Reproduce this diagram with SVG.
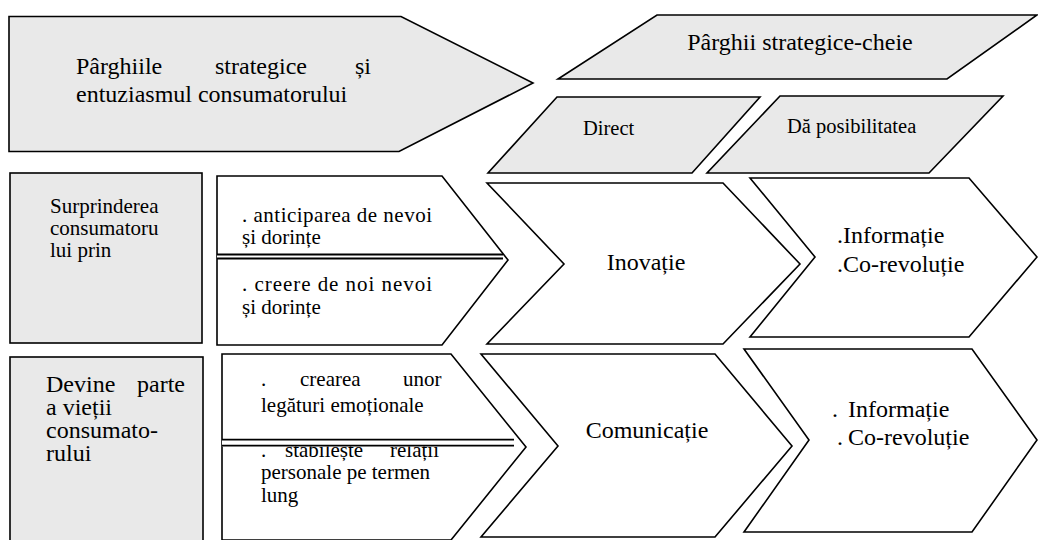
<svg xmlns="http://www.w3.org/2000/svg" width="1038" height="540" viewBox="0 0 1038 540">
  <style>
    .bg { fill: #ffffff; }
    .shade { fill: #e9e9e9; stroke: #000; stroke-width: 1.6; stroke-linejoin: miter; }
    .plain { fill: #ffffff; stroke: #000; stroke-width: 1.6; stroke-linejoin: miter; }
    .rule { stroke: #000; stroke-width: 1.8; }
    text { font-family: "Liberation Serif", "Times New Roman", serif; fill: #000; }
    .lg { font-size: 24px; }
    .md { font-size: 21px; }
    .sm { font-size: 20.5px; }
  </style>

  <rect class="bg" x="0" y="0" width="1038" height="540"/>

  <!-- header: strategic levers and consumer enthusiasm -->
  <g id="header-arrow">
    <polygon class="shade" points="9,16.5 401,16.5 533,83 399,151.5 9,151.5"/>
    <text class="lg" y="74"><tspan x="76">Pârghiile</tspan><tspan x="215">strategice</tspan><tspan x="355">și</tspan></text>
    <text class="lg" x="76" y="101.5">entuziasmul consumatorului</text>
  </g>

  <g id="key-levers">
    <polygon class="shade" points="657,15 1037,15 947,79 558,79"/>
    <text class="lg" x="800" y="50" text-anchor="middle">Pârghii strategice-cheie</text>
  </g>

  <g id="direct">
    <polygon class="shade" points="557,97 760,97 692,173 488,173"/>
    <text class="sm" x="583" y="135">Direct</text>
  </g>

  <g id="enables">
    <polygon class="shade" points="780,96 1003,96 929,173 707,173"/>
    <text class="sm" x="787" y="133">Dă posibilitatea</text>
  </g>

  <!-- row 1 -->
  <g id="surprise">
    <rect class="shade" x="10" y="173" width="192" height="170"/>
    <text class="md" x="50" y="213">Surprinderea</text>
    <text class="md" x="50" y="235">consumatoru</text>
    <text class="md" x="50" y="257">lui prin</text>
  </g>

  <g id="surprise-means">
    <polygon class="plain" points="217,176 442,176 508,260 442,345 217,345"/>
    <text class="md" x="242" y="222" textLength="190" lengthAdjust="spacing">. anticiparea de nevoi</text>
    <text class="md" x="242" y="244">și dorințe</text>
    <text class="md" x="242" y="291" textLength="190" lengthAdjust="spacing">. creere de noi nevoi</text>
    <text class="md" x="242" y="314">și dorințe</text>
  </g>

  <g id="innovation">
    <polygon class="plain" points="487,183 723,183 800,264 723,344 487,344 564,264"/>
    <text class="lg" x="646" y="270" text-anchor="middle">Inovație</text>
  </g>

  <g id="info-1">
    <polygon class="plain" points="750,178 969,178 1037,257 969,337 750,337 815,257"/>
    <text class="lg" x="837" y="243">.Informație</text>
    <text class="lg" x="837" y="272">.Co-revoluție</text>
  </g>

  <!-- row 2 -->
  <g id="become-part">
    <rect class="shade" x="10" y="357" width="193" height="190"/>
    <text class="lg" y="392"><tspan x="46">Devine</tspan><tspan x="137">parte</tspan></text>
    <text class="lg" x="46" y="415">a vieții</text>
    <text class="lg" x="46" y="438">consumato-</text>
    <text class="lg" x="46" y="461">rului</text>
  </g>

  <g id="become-means">
    <polygon class="plain" points="222,354 451,354 526,447 451,540 222,540"/>
    <text class="md" y="386"><tspan x="261">.</tspan><tspan x="300">crearea</tspan><tspan x="403">unor</tspan></text>
    <text class="md" x="261" y="412">legături emoționale</text>
    <text class="md" y="457"><tspan x="261">.</tspan><tspan x="285">stabilește</tspan><tspan x="390">relații</tspan></text>
    <text class="md" x="261" y="479">personale pe termen</text>
    <text class="md" x="261" y="502">lung</text>
  </g>

  <g id="communication">
    <polygon class="plain" points="481,354 715,354 792,446 715,537 481,537 558,446"/>
    <text class="lg" x="647" y="438" text-anchor="middle">Comunicație</text>
  </g>

  <g id="info-2">
    <polygon class="plain" points="744,349 972,349 1037,440 972,532 744,532 809,440"/>
    <text class="lg" y="417"><tspan x="832">.</tspan><tspan x="848">Informație</tspan></text>
    <text class="lg" y="445"><tspan x="837">.</tspan><tspan x="848">Co-revoluție</tspan></text>
  </g>

  <!-- double dividers inside the two white pentagons -->
  <g id="connectors">
    <rect x="217" y="254" width="286" height="5" fill="#fff"/>
    <line class="rule" x1="217" y1="254.5" x2="503" y2="254.5"/>
    <line class="rule" x1="217" y1="258.5" x2="503" y2="258.5"/>
    <rect x="222" y="439" width="292" height="7.5" fill="#fff"/>
    <line class="rule" x1="222" y1="439.7" x2="514" y2="439.7"/>
    <line class="rule" x1="222" y1="445.7" x2="514" y2="445.7"/>
  </g>
</svg>
